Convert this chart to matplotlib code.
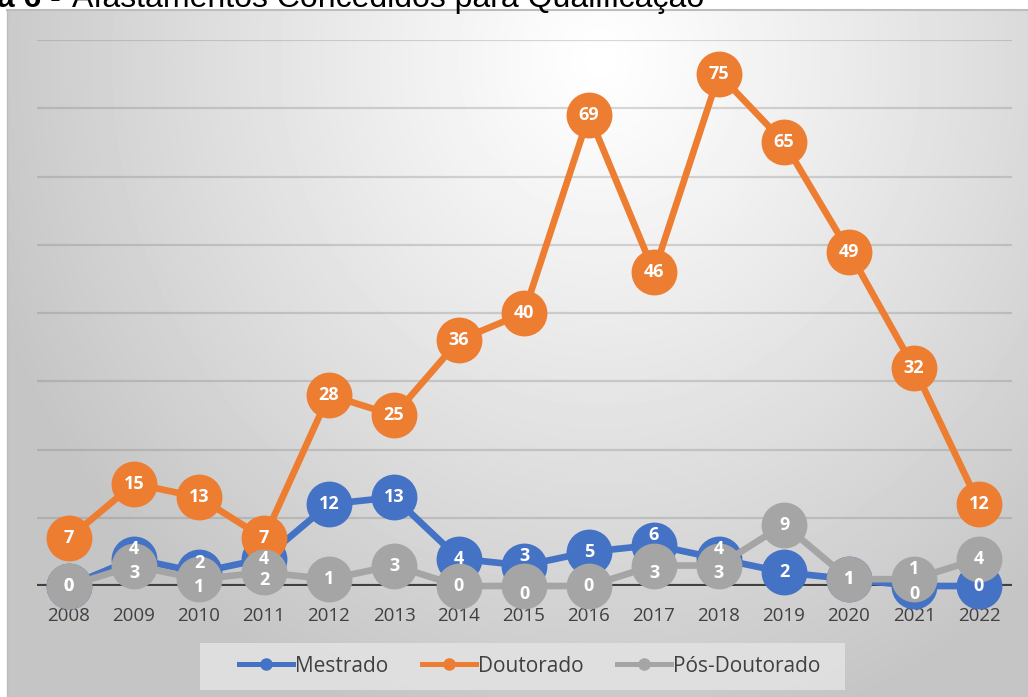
import numpy as np
import matplotlib
matplotlib.use("Agg")
import matplotlib.pyplot as plt
from matplotlib.lines import Line2D
from matplotlib.patches import Rectangle

years = ["2008", "2009", "2010", "2011", "2012", "2013", "2014", "2015",
         "2016", "2017", "2018", "2019", "2020", "2021", "2022"]
mestrado = [0, 4, 2, 4, 12, 13, 4, 3, 5, 6, 4, 2, 1, 0, 0]
doutorado = [7, 15, 13, 7, 28, 25, 36, 40, 69, 46, 75, 65, 49, 32, 12]
pos_doutorado = [0, 3, 1, 2, 1, 3, 0, 0, 0, 3, 3, 9, 1, 1, 4]

names = ["Mestrado", "Doutorado", "Pós-Doutorado"]
colors = ["#4472C4", "#ED7D31", "#A5A5A5"]

W, H = 1028, 697
fig = plt.figure(figsize=(W / 100, H / 100), dpi=100)

# chart area background: soft radial gradient, white near top centre
bg = fig.add_axes([7 / W, 0, 1 - 7 / W, 1 - 10 / H], zorder=-10)
xx, yy = np.meshgrid(np.arange(7, W), np.arange(10, H))
d = np.sqrt(((xx - 600) / 650.0) ** 2 + ((yy - 60) / 700.0) ** 2)
val = 1 - 0.23 * np.clip(d, 0, 1) ** 1.1
bg.imshow(val, cmap="gray", vmin=0, vmax=1, aspect="auto",
          extent=(0, 1, 0, 1), interpolation="bilinear")
bg.set_axis_off()
fig.add_artist(Line2D([7 / W, 1], [1 - 10 / H, 1 - 10 / H], color="#bdbdbd",
                      lw=1.5, transform=fig.transFigure))
fig.add_artist(Line2D([7 / W, 7 / W], [0, 1 - 10 / H], color="#bdbdbd",
                      lw=1.0, transform=fig.transFigure))

# title, partly cut off at the top of the image
fig.text(61 / W, 1 - 7 / H, "Figura 6 -", ha="right", va="baseline",
         fontsize=23, fontweight="bold", family="Liberation Sans")
fig.text(72 / W, 1 - 7 / H, "Afastamentos Concedidos para Qualificação",
         ha="left", va="baseline", fontsize=23, family="Liberation Sans")

ax = fig.add_axes([36.5 / W, 1 - 586 / H, 975 / W, 546 / H])
ax.set_facecolor("none")
x = np.arange(len(years))
ax.set_xlim(-0.5, len(years) - 0.5)
ax.set_ylim(0, 80)

for yv in range(10, 81, 10):
    ax.axhline(yv, color="#7f7f7f", alpha=0.3, lw=1.6, zorder=1)
ax.axhline(0, color="#404040", lw=3, zorder=2)

for k, (vals, c) in enumerate(zip([mestrado, doutorado, pos_doutorado], colors)):
    ax.plot(x, vals, color=c, lw=4.8, marker="o", markersize=32,
            markerfacecolor=c, markeredgecolor=c, clip_on=False,
            zorder=3 + k, solid_capstyle="round")

# data labels, nudged apart where Mestrado and Pos-Doutorado overlap
for i in x:
    m, p, dt = mestrado[i], pos_doutorado[i], doutorado[i]
    dm = dp = 0
    if m != p and abs(m - p) <= 3:
        up, down = 7, -5.5
        if m > p:
            dm, dp = up, down
            if dt - m <= 5:
                dm = 0
        else:
            dm, dp = down, up
    for v, dy in ((m, dm), (dt, 0), (p, dp)):
        ax.annotate(str(v), (i, v), xytext=(0, dy), textcoords="offset points",
                    ha="center", va="center", color="white", fontsize=13,
                    fontweight="bold", family="Open Sans", zorder=10,
                    annotation_clip=False)

ax.set_xticks(x)
ax.set_xticklabels(years, family="Open Sans", fontsize=13.5, color="#404040")
ax.tick_params(axis="x", length=0, pad=15)
ax.set_yticks([])
for s in ax.spines.values():
    s.set_visible(False)

# legend
fig.add_artist(Rectangle((200 / W, 1 - 690 / H), 645 / W, 47 / H,
                         transform=fig.transFigure, facecolor="#e3e3e3",
                         edgecolor="none", alpha=0.85, zorder=5))
handles = [Line2D([], [], color=c, lw=3.6, marker="o", markersize=8)
           for c in colors]
leg = fig.legend(handles, names, loc="center", ncol=3, frameon=False,
                 bbox_to_anchor=(530 / W, 1 - 666 / H), handlelength=2.6,
                 handletextpad=0.1, columnspacing=1.6,
                 prop={"family": "Open Sans", "size": 15})
leg.set_zorder(6)
for t in leg.get_texts():
    t.set_color("#404040")

fig.savefig("out.png", dpi=100)
